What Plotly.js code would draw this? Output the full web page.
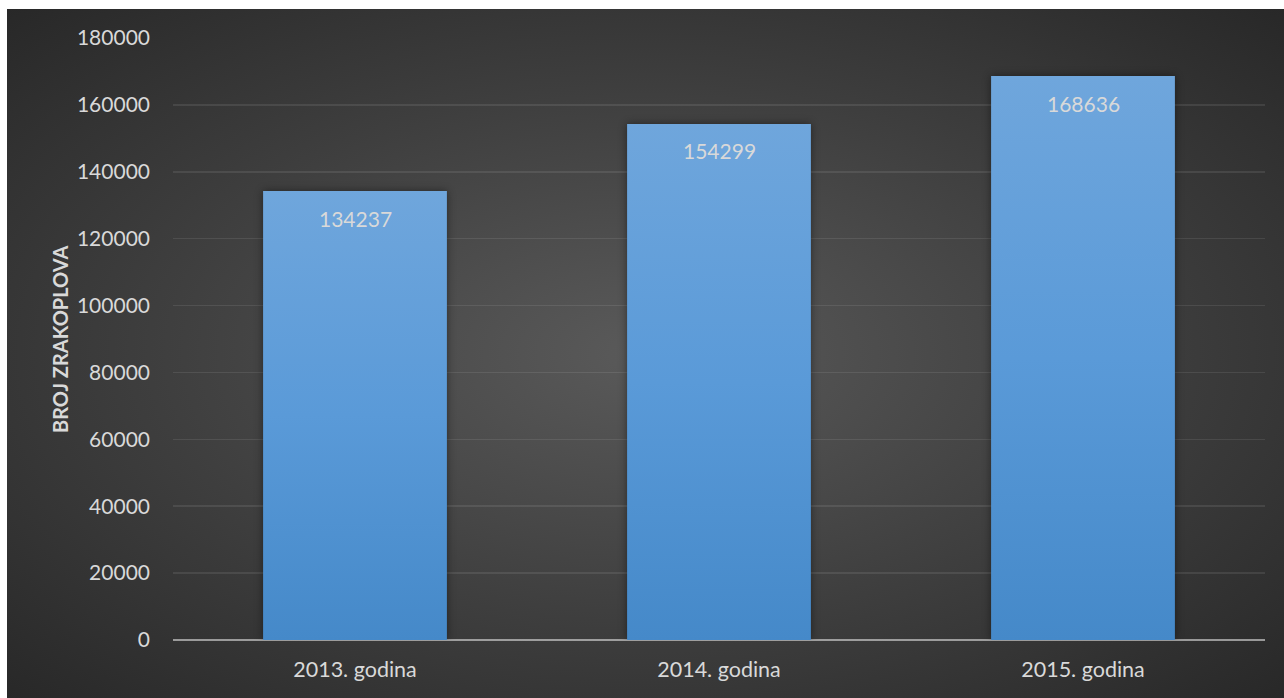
<!DOCTYPE html>
<html>
<head>
<meta charset="utf-8">
<script src="https://cdn.plot.ly/plotly-3.0.1.min.js"></script>
<style>
  html, body { margin: 0; padding: 0; background: #ffffff; }
  #chart {
    width: 1284px; height: 698px;
    background-color: #ffffff;
    background-image: radial-gradient(ellipse at 50% 50%, #5a5a5a 0%, #3e3e3e 55%, #282828 100%);
    background-repeat: no-repeat;
    background-position: 7px 9px;
    background-size: 1277px 689px;
  }
</style>
</head>
<body>
<div id="chart"></div>
<script>
const categories = ['2013. godina', '2014. godina', '2015. godina'];
const values = [134237, 154299, 168636];
const yTickValues = [0, 20000, 40000, 60000, 80000, 100000, 120000, 140000, 160000, 180000];
const yTitle = 'BROJ ZRAKOPLOVA';

const textColor = '#d9d9d9';
const fontFamily = 'Lato, "Open Sans", sans-serif';

const trace = {
  type: 'bar',
  x: categories,
  y: values,
  marker: { color: '#5a9ad8', line: { width: 0 } },
  hoverinfo: 'x+y'
};

const labelAnnotations = categories.map((c, i) => ({
  x: c, y: values[i], xref: 'x', yref: 'y',
  text: String(values[i]),
  showarrow: false,
  yanchor: 'middle',
  yshift: -27,
  font: { family: fontFamily, size: 21, color: textColor }
}));

const layout = {
  width: 1284, height: 698,
  margin: { l: 173, r: 19, t: 38, b: 58 },
  paper_bgcolor: 'rgba(0,0,0,0)',
  plot_bgcolor: 'rgba(0,0,0,0)',
  bargap: 0.495,
  showlegend: false,
  font: { family: fontFamily, size: 21, color: textColor },
  xaxis: {
    type: 'category',
    showgrid: false,
    showline: false,
    ticks: '',
    ticklabelstandoff: 14,
    tickfont: { family: fontFamily, size: 21.5, color: textColor },
    fixedrange: true
  },
  yaxis: {
    range: [0, 180000],
    tickvals: yTickValues,
    ticktext: yTickValues.map(String),
    showgrid: true,
    gridcolor: 'rgba(255,255,255,0.09)',
    gridwidth: 1.5,
    zeroline: true,
    zerolinecolor: 'rgba(225,225,225,0.6)',
    zerolinewidth: 2.5,
    showline: false,
    ticks: '',
    ticklabelstandoff: 22,
    layer: 'above traces',
    tickfont: { family: fontFamily, size: 21, color: textColor },
    fixedrange: true
  },
  annotations: labelAnnotations.concat([{
    xref: 'paper', yref: 'paper',
    x: (60 - 173) / 1092, y: 0.5,
    xanchor: 'center', yanchor: 'middle',
    text: '<b>' + yTitle + '</b>',
    textangle: -90,
    showarrow: false,
    font: { family: fontFamily, size: 20, color: textColor }
  }])
};

Plotly.newPlot('chart', [trace], layout, { displayModeBar: false, staticPlot: true }).then(gd => {
  const svg = gd.querySelector('svg.main-svg');
  const ns = 'http://www.w3.org/2000/svg';
  let defs = svg.querySelector('defs');
  if (!defs) { defs = document.createElementNS(ns, 'defs'); svg.insertBefore(defs, svg.firstChild); }
  const grad = document.createElementNS(ns, 'linearGradient');
  grad.setAttribute('id', 'barGrad');
  grad.setAttribute('x1', '0'); grad.setAttribute('y1', '0');
  grad.setAttribute('x2', '0'); grad.setAttribute('y2', '1');
  [['0', '#6fa6dc'], ['0.5', '#5a9ad8'], ['1', '#4589c9']].forEach(([o, c]) => {
    const s = document.createElementNS(ns, 'stop');
    s.setAttribute('offset', o); s.setAttribute('stop-color', c);
    grad.appendChild(s);
  });
  defs.appendChild(grad);
  gd.querySelectorAll('.barlayer .point path').forEach(p => {
    p.style.fill = 'url(#barGrad)';
    p.style.filter = 'drop-shadow(0px 0px 4px rgba(0,0,0,0.45))';
  });
});
</script>
</body>
</html>
